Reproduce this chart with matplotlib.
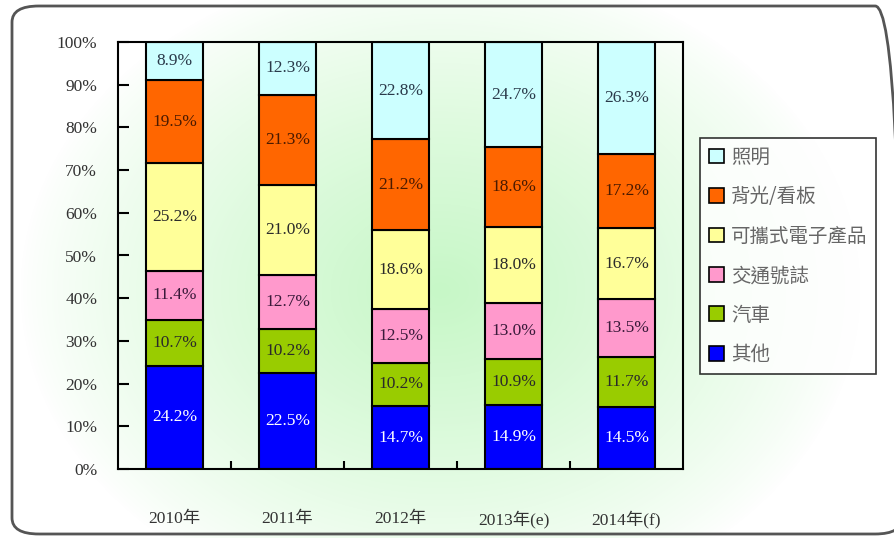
import numpy as np
import matplotlib
matplotlib.use("Agg")
import matplotlib.pyplot as plt
from matplotlib.patches import FancyBboxPatch

years = ["2010年", "2011年", "2012年", "2013年(e)", "2014年(f)"]

# stacked from bottom to top
other = [24.2, 22.5, 14.7, 14.9, 14.5]
car = [10.7, 10.2, 10.2, 10.9, 11.7]
traffic = [11.4, 12.7, 12.5, 13.0, 13.5]
portable = [25.2, 21.0, 18.6, 18.0, 16.7]
backlight = [19.5, 21.3, 21.2, 18.6, 17.2]
lighting = [8.9, 12.3, 22.8, 24.7, 26.3]

series_names = ["其他", "汽車", "交通號誌", "可攜式電子產品", "背光/看板", "照明"]
series_vals = [other, car, traffic, portable, backlight, lighting]
series_colors = ["#0000ff", "#99cc00", "#ff99cc", "#ffff99", "#ff6600", "#ccffff"]
label_colors = ["white", "#2a2a2a", "#3a1a3a", "#2a2a2a", "#4a1a00", "#2a3a4a"]

serif = ["Liberation Serif", "Noto Sans CJK TC"]
cjk = ["Noto Sans CJK TC", "DejaVu Sans"]

fig = plt.figure(figsize=(8.94, 5.38), dpi=100)

# background gradient
bg = fig.add_axes([0, 0, 1, 1], zorder=-5)
yy, xx = np.mgrid[0:538, 0:894]
d = np.sqrt(((xx - 440) / 420.0) ** 2 + ((yy - 290) / 330.0) ** 2)
t = np.clip(1 - d, 0, 1) ** 0.8
img = np.zeros((538, 894, 3))
img[..., 0] = 1 - t * 0.22
img[..., 1] = 1 - t * 0.03
img[..., 2] = 1 - t * 0.22
bg.imshow(img, aspect="auto", extent=[0, 1, 0, 1], origin="upper")
bg.set_xlim(0, 1)
bg.set_ylim(0, 1)
bg.axis("off")

frame = FancyBboxPatch((12 / 894, 4 / 538), 890 / 894, 528 / 538,
                       boxstyle="round,pad=0,rounding_size=0.03",
                       transform=fig.transFigure, fill=False,
                       edgecolor="#555555", linewidth=2, zorder=-1)
fig.patches.append(frame)

ax = fig.add_axes([118 / 894, 69 / 538, 565 / 894, 427 / 538])
ax.set_facecolor("none")

x = np.arange(len(years))
totals = np.sum(series_vals, axis=0)
bottom = np.zeros(len(years))
handles = []
for name, vals, col, lc in zip(series_names, series_vals, series_colors, label_colors):
    h = np.array(vals) / totals * 100
    b = ax.bar(x, h, 0.51, bottom=bottom, color=col, edgecolor="black",
               linewidth=1.5, label=name)
    handles.append(b)
    for xi, bi, hi, v in zip(x, bottom, h, vals):
        ax.text(xi, bi + hi / 2, f"{v:.1f}%", ha="center", va="center",
                fontsize=12.5, color=lc, family=serif)
    bottom += h

ax.set_xlim(-0.5, 4.5)
ax.set_ylim(0, 100)
ax.set_yticks(np.arange(0, 101, 10))
ax.set_yticklabels([f"{v}%" for v in range(0, 101, 10)], family=serif,
                   fontsize=12.5, color="#333333")
ax.tick_params(axis="y", direction="in", length=8, width=1.5, pad=15)
ax.set_xticks(x)
ax.set_xticklabels(years, family=serif, fontsize=12.5, color="#333333")
ax.tick_params(axis="x", length=0, pad=30)
ax.set_xticks(np.arange(0.5, 4, 1), minor=True)
ax.tick_params(axis="x", which="minor", direction="in", length=6, width=1.5)
for s in ax.spines.values():
    s.set_linewidth(1.5)

leg = fig.legend(handles[::-1], series_names[::-1], loc="upper left",
                 bbox_to_anchor=(700 / 894, 1 - 138 / 538),
                 prop={"family": cjk, "size": 14}, labelcolor="#666666",
                 frameon=True, fancybox=False, edgecolor="black",
                 handlelength=0.8, handleheight=0.8, handletextpad=0.35,
                 labelspacing=0.95, borderpad=0.45, borderaxespad=0)
leg.get_frame().set_linewidth(1.2)
leg.get_frame().set_facecolor("white")
for p in leg.get_patches():
    p.set_linewidth(1.2)

fig.savefig("out.png", dpi=100)
